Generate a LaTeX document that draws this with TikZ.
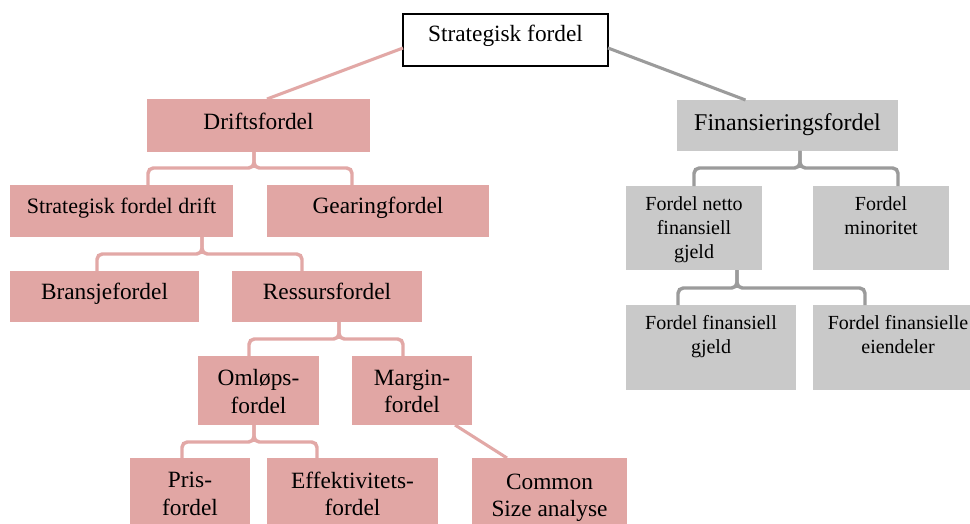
\documentclass[tikz,border=0pt]{standalone}
\usepackage{fontspec}
\setmainfont{Liberation Serif}
\usetikzlibrary{fit,calc}
\definecolor{rosefill}{RGB}{225,166,164}
\definecolor{roseline}{RGB}{226,168,166}
\definecolor{greyfill}{RGB}{201,201,201}
\definecolor{greyline}{RGB}{155,155,155}

\begin{document}
\begin{tikzpicture}[x=0.75pt,y=-0.75pt,
  box/.style={inner sep=0pt, outer sep=0pt},
  pinkbox/.style={box, fill=rosefill},
  greybox/.style={box, fill=greyfill},
  topbox/.style={box, draw=black, line width=1.1pt, fill=white},
  bigtext/.style={inner sep=0pt, align=center, font=\fontsize{17.5}{20.5}\selectfont},
  smalltext/.style={inner sep=0pt, align=center, font=\fontsize{15}{18}\selectfont},
  pinklink/.style={draw=roseline, line width=2.6pt, rounded corners=4pt},
  greylink/.style={draw=greyline, line width=2.6pt, rounded corners=4pt},
  pinkdiag/.style={draw=roseline, line width=2.3pt},
  greydiag/.style={draw=greyline, line width=2.3pt},
]
\clip (0,0) rectangle (970,524);
\fill[white] (0,0) rectangle (970,524);

% root
\node[topbox, fit={(403,14) (608,66)}] (root) {};
\node[bigtext] (root-t) at ([yshift=3.5pt]root.center) {Strategisk fordel};

% operating branch: boxes
\node[pinkbox, fit={(147,99) (370,152)}] (drift) {};
\node[pinkbox, fit={(10,185) (233,237)}] (sfd) {};
\node[pinkbox, fit={(267,185) (489,237)}] (gear) {};
\node[pinkbox, fit={(10,271) (199,322)}] (bransje) {};
\node[pinkbox, fit={(232,271) (422,322)}] (ressurs) {};
\node[pinkbox, fit={(198,356) (319,425)}] (omlop) {};
\node[pinkbox, fit={(352,356) (472,425)}] (margin) {};
\node[pinkbox, fit={(130,458) (250,530)}] (pris) {};
\node[pinkbox, fit={(267,458) (438,530)}] (eff) {};
\node[pinkbox, fit={(472,458) (627,530)}] (common) {};

% operating branch: labels
\node[bigtext] (drift-t) at ([yshift=3pt]drift.center) {Driftsfordel};
\node[bigtext, font=\fontsize{16.5}{19.5}\selectfont] (sfd-t) at ([yshift=2.25pt]sfd.center) {Strategisk fordel drift};
\node[bigtext] (gear-t) at ([yshift=2.25pt]gear.center) {Gearingfordel};
\node[bigtext] (bransje-t) at ([yshift=1.9pt]bransje.center) {Bransjefordel};
\node[bigtext] (ressurs-t) at ([yshift=3.75pt]ressurs.center) {Ressursfordel};
\node[bigtext] (omlop-t) at ([yshift=-0.75pt]omlop.center) {Omløps-\\fordel};
\node[bigtext] (margin-t) at ([yshift=-0.75pt]margin.center) {Margin-\\fordel};
\node[bigtext] (pris-t) at (pris.center) {Pris-\\fordel};
\node[bigtext] (eff-t) at (eff.center) {Effektivitets-\\fordel};
\node[bigtext] (common-t) at ([yshift=-2.6pt]common.center) {Common\\Size analyse};

% financing branch
\node[greybox, fit={(677,100) (898,151)}] (fin) {};
\node[bigtext, font=\fontsize{18}{21}\selectfont] (fin-t) at ([yshift=0.75pt]fin.center) {Finansieringsfordel};
\node[greybox, fit={(626,186) (762,270)}] (netto) {};
\node[greybox, fit={(813,186) (949,270)}] (minor) {};
\node[greybox, fit={(626,305) (796,390)}] (fgjeld) {};
\node[greybox, fit={(813,305) (983,390)}] (feiend) {};
\node[smalltext, anchor=north] (netto-t) at ([yshift=-7.5pt]netto.north) {Fordel netto\\finansiell\\gjeld};
\node[smalltext, anchor=north] (minor-t) at ([yshift=-7.5pt]minor.north) {Fordel\\minoritet};
\node[smalltext, anchor=north] (fgjeld-t) at ([yshift=-7.5pt]fgjeld.north) {Fordel finansiell\\gjeld};
\node[smalltext, anchor=north] (feiend-t) at ([yshift=-7.5pt]feiend.north) {Fordel finansielle\\eiendeler};

% links from the root
\draw[pinkdiag] ($(root.west)+(0,8)$) -- ($(drift.north)+(8.5,0)$);
\draw[greydiag] ($(root.east)+(0,8)$) -- ($(fin.north)+(-42,0)$);

% operating brackets
\draw[pinklink] (148,0 |- sfd.north) -- (148,168) -- (254,168) -- (254,0 |- drift.south);
\draw[pinklink] (352,0 |- gear.north) -- (352,168) -- (254,168) -- (254,0 |- drift.south);

\draw[pinklink] (97,0 |- bransje.north) -- (97,254) -- (202,254) -- (202,0 |- sfd.south);
\draw[pinklink] (302,0 |- ressurs.north) -- (302,254) -- (202,254) -- (202,0 |- sfd.south);

\draw[pinklink] (249,0 |- omlop.north) -- (249,339) -- (339,339) -- (339,0 |- ressurs.south);
\draw[pinklink] (403,0 |- margin.north) -- (403,339) -- (339,339) -- (339,0 |- ressurs.south);

\draw[pinklink] (182,0 |- pris.north) -- (182,442) -- (254,442) -- (254,0 |- omlop.south);
\draw[pinklink] (317,0 |- eff.north) -- (317,442) -- (254,442) -- (254,0 |- omlop.south);

\draw[pinkdiag] (455,0 |- margin.south) -- (507,0 |- common.north);

% financing brackets
\draw[greylink] (694,0 |- netto.north) -- (694,168) -- (800,168) -- (800,0 |- fin.south);
\draw[greylink] (898,0 |- minor.north) -- (898,168) -- (800,168) -- (800,0 |- fin.south);

\draw[greylink] (678,0 |- fgjeld.north) -- (678,288) -- (737,288) -- (737,0 |- netto.south);
\draw[greylink] (865,0 |- feiend.north) -- (865,288) -- (737,288) -- (737,0 |- netto.south);
\end{tikzpicture}
\end{document}
